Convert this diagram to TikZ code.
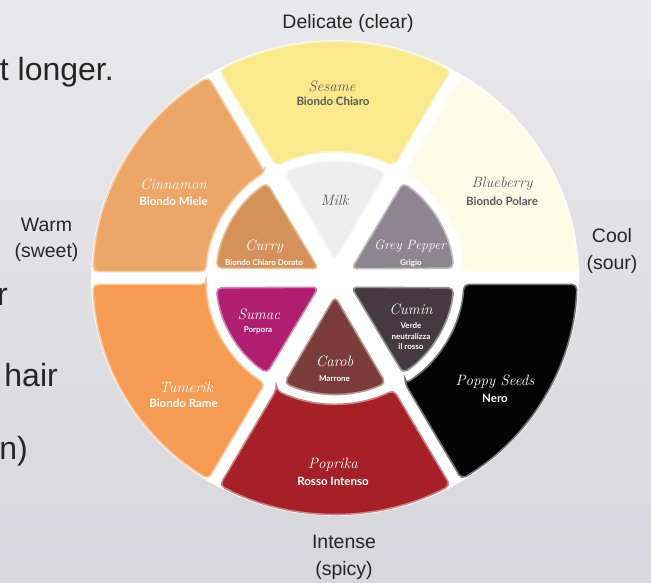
\documentclass[tikz,border=0pt]{standalone}
\usepackage{fontspec}
\newfontfamily\sidefont{Liberation Sans}
\newfontfamily\subfont{Lato}

\definecolor{bgtop}{RGB}{233,233,236}
\definecolor{bgbot}{RGB}{214,214,220}
\definecolor{sesame}{RGB}{249,232,140}
\definecolor{blueberry}{RGB}{253,252,231}
\definecolor{cinnamon}{RGB}{236,166,104}
\definecolor{tumerik}{RGB}{246,155,84}
\definecolor{paprika}{RGB}{166,32,40}
\definecolor{poppy}{RGB}{4,4,4}
\definecolor{milk}{RGB}{236,237,236}
\definecolor{curry}{RGB}{212,146,90}
\definecolor{greypepper}{RGB}{143,133,145}
\definecolor{sumac}{RGB}{176,30,114}
\definecolor{carob}{RGB}{122,61,57}
\definecolor{cumin}{RGB}{68,58,64}
\definecolor{darktext}{RGB}{88,88,88}
\definecolor{sidetext}{RGB}{38,38,38}

\tikzset{
  piece/.style={fill=#1, draw=#1!55!white, line width=1.6pt, rounded corners=5pt},
  spice/.style={font=\itshape\fontsize{15}{15}\selectfont, inner sep=0pt},
  spicesmall/.style={font=\itshape\fontsize{13.5}{13.5}\selectfont, inner sep=0pt},
  shadename/.style={font=\subfont\bfseries\fontsize{11.5}{12}\selectfont, inner sep=0pt, align=center},
  smallname/.style={font=\subfont\bfseries\fontsize{8}{10.5}\selectfont, inner sep=0pt, align=center},
  sidelabel/.style={font=\sidefont\fontsize{19.5}{26.5}\selectfont, text=sidetext, inner sep=0pt, align=center},
  slidetext/.style={font=\sidefont\fontsize{32}{32}\selectfont, text=sidetext, inner sep=0pt, anchor=east},
  lighttext/.style={text=darktext},
  whitetext/.style={text=white}
}

\newcommand\ringpiece[2]{%
  \pgfmathsetmacro\rpA{#1-30+1.54}\pgfmathsetmacro\rpB{#1+30-1.54}%
  \pgfmathsetmacro\rpC{#1-30+2.89}\pgfmathsetmacro\rpD{#1+30-2.89}%
  \path[piece=#2] (\rpC:129) -- (\rpA:242) arc[start angle=\rpA, end angle=\rpB, radius=242]
     -- (\rpD:129) arc[start angle=\rpD, end angle=\rpC, radius=129] -- cycle;}
\newcommand\corepiece[2]{%
  \pgfmathsetmacro\cpA{#1-30+4.86}\pgfmathsetmacro\cpB{#1+30-4.86}%
  \path[piece=#2] (#1:19) -- (\cpB:119) arc[start angle=\cpB, end angle=\cpA, radius=119] -- cycle;}

\begin{document}
\begin{tikzpicture}[x=1pt,y=1pt]
\useasboundingbox (0,0) rectangle (651,582);
\shade[top color=bgtop, bottom color=bgbot] (0,0) rectangle (651,582);

\begin{scope}[shift={(335,304)}, yscale=0.975]
  \fill[white] (0,0) circle[radius=244];
  \ringpiece{90}{sesame}
  \ringpiece{150}{cinnamon}
  \ringpiece{210}{tumerik}
  \ringpiece{270}{paprika}
  \ringpiece{330}{poppy}
  \ringpiece{30}{blueberry}
  \corepiece{90}{milk}
  \corepiece{150}{curry}
  \corepiece{210}{sumac}
  \corepiece{270}{carob}
  \corepiece{330}{cumin}
  \corepiece{30}{greypepper}
\end{scope}

% wedge labels
\node[spice, lighttext] (sesame) at (332,496) {Sesame};
\node[shadename, lighttext] (sesameN) at (333,481) {Biondo Chiaro};
\node[spice, whitetext] (cinnamon) at (173.5,398) {Cinnamon};
\node[shadename, whitetext] (cinnamonN) at (173.5,381) {Biondo Miele};
\node[spice, lighttext] (blueberry) at (502,398) {Blueberry};
\node[shadename, lighttext] (blueberryN) at (502,381) {Biondo Polare};
\node[spice, lighttext] (milk) at (334.6,382) {Milk};
\node[spice, whitetext] (curry) at (264,335) {Curry};
\node[smallname, whitetext] (curryN) at (264,319) {Biondo Chiaro Dorato};
\node[spicesmall, whitetext] (grey) at (410,336) {Grey Pepper};
\node[smallname, whitetext] (greyN) at (411,319) {Grigio};
\node[spice, whitetext] (sumac) at (259,268) {Sumac};
\node[smallname, whitetext] (sumacN) at (258,252) {Porpora};
\node[spice, whitetext] (cumin) at (411,273) {Cumin};
\node[smallname, whitetext] (cuminN) at (411,245.5) {Verde\\neutralizza\\il rosso};
\node[spice, whitetext] (carob) at (334.6,221) {Carob};
\node[smallname, whitetext] (carobN) at (334.6,203) {Marrone};
\node[spice, whitetext] (tumerik) at (186,195) {Tumerik};
\node[shadename, whitetext] (tumerikN) at (183.5,179) {Biondo Rame};
\node[spice, whitetext] (poppy) at (495,200) {Poppy Seeds};
\node[shadename, whitetext] (poppyN) at (495,184) {Nero};
\node[spice, whitetext] (paprika) at (333,117) {Poprika};
\node[shadename, whitetext] (paprikaN) at (333,101) {Rosso Intenso};

% side labels
\node[sidelabel] (delicate) at (348,559) {Delicate (clear)};
\node[sidelabel] (warm) at (46.5,342) {Warm\\(sweet)};
\node[sidelabel] (cool) at (612,331) {Cool\\(sour)};
\node[sidelabel] (intense) at (344,24.5) {Intense\\(spicy)};

% slide text cut at the left edge
\node[slidetext] (slideA) at (114,510) {t longer.};
\node[slidetext] (slideB) at (8,285) {r};
\node[slidetext] (slideC) at (58,207) {hair};
\node[slidetext] (slideD) at (28,131) {n)};
\end{tikzpicture}
\end{document}
